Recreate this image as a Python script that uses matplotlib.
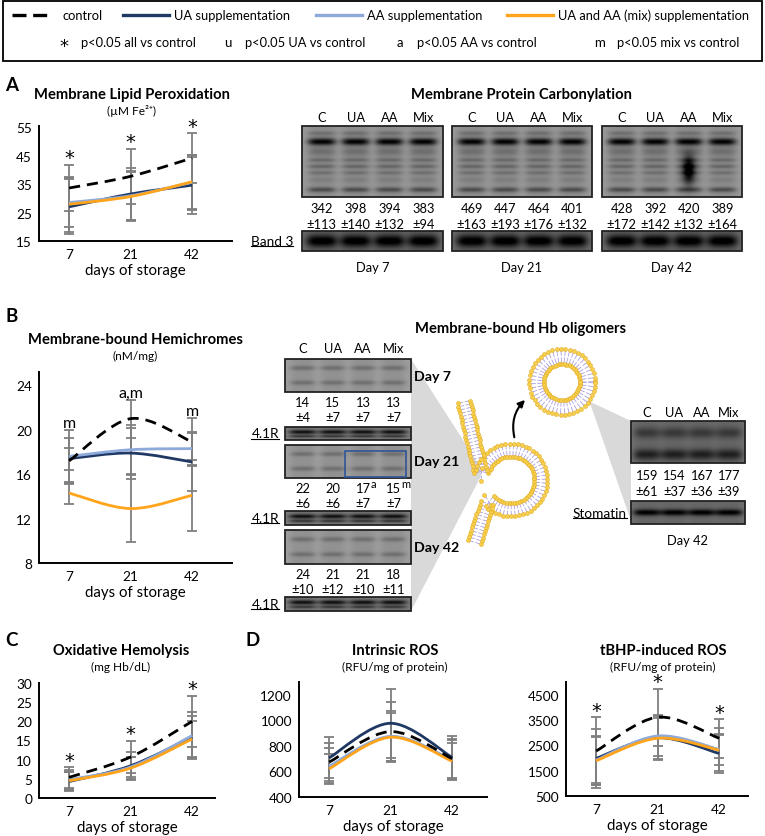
import numpy as np
import matplotlib.pyplot as plt
from matplotlib.path import Path
from matplotlib.patches import PathPatch, Rectangle, Polygon, FancyArrowPatch
from matplotlib.collections import LineCollection

plt.rcParams['font.family'] = ['Lato', 'DejaVu Sans']

W, H = 765, 837

# ---------------- data ----------------
days = ['7', '21', '42']

lipid_ctrl = [33.6, 37.7, 44.1]; lipid_ctrl_err = [8.2, 9.7, 8.8]
lipid_ua = [27.0, 31.5, 34.6];   lipid_ua_err = [9.6, 9.1, 10.0]
lipid_aa = [28.5, 30.9, 35.6];   lipid_aa_err = [8.5, 8.6, 9.6]
lipid_mix = [27.9, 30.6, 35.8];  lipid_mix_err = [9.6, 8.5, 9.4]
lipid_sig = ['*', '*', '*']

hemi_ctrl = [17.2, 21.0, 18.9]; hemi_ctrl_err = [2.1, 1.7, 2.2]
hemi_ua = [17.4, 17.9, 17.1];   hemi_ua_err = [1.0, 2.3, 2.6]
hemi_aa = [17.6, 18.2, 18.3];   hemi_aa_err = [2.4, 2.2, 1.5]
hemi_mix = [14.3, 12.9, 14.1];  hemi_mix_err = [1.0, 3.0, 3.2]
hemi_sig = ['m', 'a,m', 'm']

hemo_ctrl = [5.4, 10.7, 20.0]; hemo_ctrl_err = [2.7, 4.3, 6.7]
hemo_ua = [4.3, 8.4, 15.9];    hemo_ua_err = [2.4, 3.6, 5.4]
hemo_aa = [4.8, 8.1, 16.3];    hemo_aa_err = [2.5, 2.5, 6.1]
hemo_mix = [4.5, 7.8, 15.4];   hemo_mix_err = [2.3, 2.8, 4.6]
hemo_sig = ['*', '*', '*']

ros_ctrl = [673, 912, 700]; ros_ctrl_err = [150, 228, 155]
ros_ua = [706, 977, 710];   ros_ua_err = [160, 272, 170]
ros_aa = [641, 875, 690];   ros_aa_err = [143, 200, 160]
ros_mix = [621, 868, 680];  ros_mix_err = [112, 190, 140]
ros_sig = ['', '', '']

tbhp_ctrl = [2275, 3610, 2780]; tbhp_ctrl_err = [1325, 1130, 770]
tbhp_ua = [1985, 2800, 2180];   tbhp_ua_err = [1165, 860, 770]
tbhp_aa = [1920, 2870, 2340];   tbhp_aa_err = [925, 810, 860]
tbhp_mix = [1890, 2780, 2310];  tbhp_mix_err = [960, 800, 600]
tbhp_sig = ['*', '*', '*']

lanes = ['C', 'UA', 'AA', 'Mix']
carb_d7 = ['342', '398', '394', '383'];   carb_d7_sd = ['±113', '±140', '±132', '±94']
carb_d21 = ['469', '447', '464', '401'];  carb_d21_sd = ['±163', '±193', '±176', '±132']
carb_d42 = ['428', '392', '420', '389'];  carb_d42_sd = ['±172', '±142', '±132', '±164']
olig_d7 = ['14', '15', '13', '13'];   olig_d7_sd = ['±4', '±7', '±7', '±7']
olig_d21 = ['22', '20', '17', '15'];  olig_d21_sd = ['±6', '±6', '±7', '±7']
olig_d21_sig = ['', '', 'a', 'm']
olig_d42 = ['24', '21', '21', '18'];  olig_d42_sd = ['±10', '±12', '±10', '±11']
stom_d42 = ['159', '154', '167', '177']; stom_d42_sd = ['±61', '±37', '±36', '±39']

C_CTRL, C_UA, C_AA, C_MIX = 'black', '#1f3864', '#8eaadb', '#ffa41b'
ERR = '#7f7f7f'
STAR = ['DejaVu Sans']

fig = plt.figure(figsize=(W / 100, H / 100), dpi=100)
ov = fig.add_axes([0, 0, 1, 1])
ov.set_xlim(0, W); ov.set_ylim(H, 0); ov.axis('off')


def smooth(ax, y, **kw):
    # Excel-like smoothed line: cubic bezier through the points
    p = np.column_stack([np.arange(len(y)), y]).astype(float)
    verts, codes = [p[0]], [Path.MOVETO]
    for i in range(len(p) - 1):
        p0 = p[i - 1] if i > 0 else p[i]
        p3 = p[i + 2] if i + 2 < len(p) else p[i + 1]
        verts += [p[i] + (p[i + 1] - p0) / 6, p[i + 1] - (p3 - p[i]) / 6, p[i + 1]]
        codes += [Path.CURVE4] * 3
    ax.add_patch(PathPatch(Path(verts, codes), fill=False, capstyle='butt', **kw))


def chart(box, series, ylim, yticks, sig):
    l, t, r, b = box
    ax = fig.add_axes([l / W, 1 - b / H, (r - l) / W, (b - t) / H])
    ax.set_facecolor('none')
    tops = np.zeros(3)
    for y, e, c, ls in series:
        ax.errorbar(range(3), y, yerr=e, fmt='none', ecolor=ERR, elinewidth=1.3,
                    capsize=3.5, capthick=1.3, zorder=2)
        tops = np.maximum(tops, np.array(y) + np.array(e))
    for y, e, c, ls in series[1:] + series[:1]:
        smooth(ax, y, edgecolor=c, lw=2.0, linestyle=ls, zorder=3)
    ax.set_xlim(-0.49, -0.49 + (r - l) / 61.5)
    ax.set_ylim(*ylim)
    ax.set_xticks(range(3), days)
    ax.set_yticks(yticks)
    for s in ['top', 'right']:
        ax.spines[s].set_visible(False)
    for s in ['left', 'bottom']:
        ax.spines[s].set_linewidth(1.4)
    ax.tick_params(length=0, labelsize=9.8, pad=5)
    ax.set_xlabel('days of storage', fontsize=10.8, labelpad=2)
    for i, s in enumerate(sig):
        if s == '*':
            ax.annotate(s, (i, tops[i]), xytext=(0, -2), textcoords='offset points',
                        ha='center', va='bottom', fontsize=14, family=STAR)
        elif s:
            ax.annotate(s, (i, tops[i]), xytext=(0, 0), textcoords='offset points',
                        ha='center', va='bottom', fontsize=11.5)
    return ax


def group(y, e):
    return [(y[0], e[0], C_CTRL, (0, (4, 2.5))), (y[1], e[1], C_UA, '-'),
            (y[2], e[2], C_AA, '-'), (y[3], e[3], C_MIX, '-')]


chart((39, 126.6, 232, 242),
      group([lipid_ctrl, lipid_ua, lipid_aa, lipid_mix],
            [lipid_ctrl_err, lipid_ua_err, lipid_aa_err, lipid_mix_err]),
      (15, 55.5), [15, 25, 35, 45, 55], lipid_sig)
chart((39, 373, 232, 564),
      group([hemi_ctrl, hemi_ua, hemi_aa, hemi_mix],
            [hemi_ctrl_err, hemi_ua_err, hemi_aa_err, hemi_mix_err]),
      (8, 25.2), [8, 12, 16, 20, 24], hemi_sig)
chart((39, 684, 215, 799),
      group([hemo_ctrl, hemo_ua, hemo_aa, hemo_mix],
            [hemo_ctrl_err, hemo_ua_err, hemo_aa_err, hemo_mix_err]),
      (0, 30), [0, 5, 10, 15, 20, 25, 30], hemo_sig)
chart((299, 683, 487, 798),
      group([ros_ctrl, ros_ua, ros_aa, ros_mix],
            [ros_ctrl_err, ros_ua_err, ros_aa_err, ros_mix_err]),
      (400, 1300), [400, 600, 800, 1000, 1200], ros_sig)
chart((566, 683, 748, 797),
      group([tbhp_ctrl, tbhp_ua, tbhp_aa, tbhp_mix],
            [tbhp_ctrl_err, tbhp_ua_err, tbhp_aa_err, tbhp_mix_err]),
      (500, 5000), [500, 1500, 2500, 3500, 4500], tbhp_sig)

# ---------------- legend box ----------------
ov.add_patch(Rectangle((3, 2), 759, 60, fill=False, ec='black', lw=1.3))
for x0, ln, c, ls, lab in [(12, 40, C_CTRL, (0, (4.2, 2)), 'control'),
                           (123, 46, C_UA, '-', 'UA supplementation'),
                           (316, 46, C_AA, '-', 'AA supplementation'),
                           (507, 46, C_MIX, '-', 'UA and AA (mix) supplementation')]:
    ov.plot([x0, x0 + ln], [16, 16], color=c, ls=ls, lw=2.4)
    ov.text(x0 + 51, 16, lab, va='center', fontsize=9.3)
for x0, sym, lab in [(64, '*', 'p<0.05 all vs control'), (228, 'u', 'p<0.05 UA vs control'),
                     (400, 'a', 'p<0.05 AA vs control'), (600, 'm', 'p<0.05 mix vs control')]:
    if sym == '*':
        ov.text(x0, 47, sym, va='center', ha='center', fontsize=13, family=STAR)
    else:
        ov.text(x0, 43, sym, va='center', ha='center', fontsize=9.5)
    ov.text(x0 + 17, 43, lab, va='center', fontsize=9.3)

# ---------------- titles ----------------
def title(x, y, main, sub):
    ov.text(x, y, main, ha='center', va='center', fontsize=10.6, fontweight='bold')
    if sub:
        ov.text(x, y + 16, sub, ha='center', va='center', fontsize=8.6)


for lab, x, y in [('A', 5, 85), ('B', 6, 316), ('C', 5, 640), ('D', 246, 640)]:
    ov.text(x, y, lab, ha='left', va='center', fontsize=13.5, fontweight='bold')
title(132, 95, 'Membrane Lipid Peroxidation', '(µM Fe²⁺)')
title(522, 95, 'Membrane Protein Carbonylation', None)
title(135, 340, 'Membrane-bound Hemichromes', '(nM/mg)')
title(521, 329, 'Membrane-bound Hb oligomers', None)
title(121, 651, 'Oxidative Hemolysis', '(mg Hb/dL)')
title(395, 651, 'Intrinsic ROS', '(RFU/mg of protein)')
title(663, 651, 'tBHP-induced ROS', '(RFU/mg of protein)')

# ---------------- blots ----------------
lane_pos = [0.14, 0.38, 0.62, 0.86]

carb_bands = [(0.10, 0.03, 0.12), (0.22, 0.05, 0.55), (0.36, 0.06, 0.12), (0.48, 0.03, 0.14),
              (0.57, 0.03, 0.16), (0.66, 0.03, 0.12), (0.76, 0.04, 0.06), (0.9, 0.035, 0.26)]
band3_bands = [(0.5, 0.3, 0.42)]
olig_bands = [(0.27, 0.07, 0.14), (0.72, 0.07, 0.14)]
r41_bands = [(0.38, 0.16, 0.4), (0.72, 0.1, 0.25)]
stom_top_bands = [(0.28, 0.13, 0.18), (0.8, 0.13, 0.28)]
stom_bands = [(0.5, 0.14, 0.42)]


def blot(x0, y0, x1, y1, bg, bands, lane_w=0.1, spot=None):
    h, w = int((y1 - y0) * 2), int((x1 - x0) * 2)
    yy, xx = np.mgrid[0:1:h * 1j, 0:1:w * 1j]
    mask = sum(np.exp(-((xx - c) / lane_w) ** 4) for c in lane_pos)
    img = np.full((h, w), bg) - 0.05 * mask
    for pos, wd, st in bands:
        img -= st * np.exp(-((yy - pos) / wd) ** 2) * mask
    if spot is not None:
        img -= 0.6 * np.exp(-((xx - spot[0]) / 0.045) ** 2 - ((yy - spot[1]) / 0.2) ** 2)
    ov.imshow(np.clip(img, 0, 1), cmap='gray', vmin=0, vmax=1, extent=(x0, x1, y1, y0),
              aspect='auto', interpolation='bilinear', zorder=3)
    ov.add_patch(Rectangle((x0, y0), x1 - x0, y1 - y0, fill=False, ec='#222222', lw=1.3, zorder=4))


def lane_text(x0, x1, y, labels, size=9.3, **kw):
    for f, s in zip(lane_pos, labels):
        ov.text(x0 + f * (x1 - x0), y, s, ha='center', va='center', fontsize=size, **kw)


underlined = []

# panel A blots
for (x0, x1), vals, sds, day, spot in [((302, 443), carb_d7, carb_d7_sd, 'Day 7', None),
                                        ((452, 592), carb_d21, carb_d21_sd, 'Day 21', None),
                                        ((602, 742), carb_d42, carb_d42_sd, 'Day 42', (0.62, 0.62))]:
    lane_text(x0, x1, 118, lanes)
    blot(x0, 127, x1, 198, 0.6, carb_bands, spot=spot)
    lane_text(x0, x1, 209, vals)
    lane_text(x0, x1, 225, sds)
    blot(x0, 232, x1, 252, 0.42, band3_bands, lane_w=0.11)
    ov.text((x0 + x1) / 2, 268, day, ha='center', va='center', fontsize=9.3)
underlined.append(ov.text(293, 242, 'Band 3', ha='right', va='center', fontsize=9.8))

# panel B blots (Hb oligomers)
ov.add_patch(Polygon([(411, 360), (481, 469), (481, 477), (411, 612)], fc='#d9d9d9', ec='none', zorder=1))
ov.add_patch(Polygon([(582, 399), (631, 422), (631, 522), (590, 404)], fc='#d9d9d9', ec='none', zorder=1))

bx0, bx1 = 285, 411
lane_text(bx0, bx1, 349, lanes)
for (y0, y1), day, vals, sds, ny, r41 in [((360, 393), 'Day 7', olig_d7, olig_d7_sd, 403, (428, 441)),
                                          ((446, 479), 'Day 21', olig_d21, olig_d21_sd, 489, (512, 526)),
                                          ((531, 565), 'Day 42', olig_d42, olig_d42_sd, 575, (598, 612))]:
    blot(bx0, y0, bx1, y1, 0.62, olig_bands)
    ov.text(414, (y0 + y1) / 2, day, ha='left', va='center', fontsize=10.2, fontweight='bold')
    lane_text(bx0, bx1, ny, vals)
    lane_text(bx0, bx1, ny + 15, sds)
    blot(bx0, r41[0], bx1, r41[1], 0.5, r41_bands, lane_w=0.11)
    underlined.append(ov.text(279, (r41[0] + r41[1]) / 2, '4.1R', ha='right', va='center', fontsize=9.8))
for f, s in zip(lane_pos, olig_d21_sig):
    if s:
        ov.text(bx0 + f * (bx1 - bx0) + 8, 484, s, ha='left', va='center', fontsize=8)
ov.add_patch(Rectangle((345, 452), 61, 26, fill=False, ec='#2f5597', lw=1.2, zorder=5))

sx0, sx1 = 631, 745
lane_text(sx0, sx1, 413, lanes)
blot(sx0, 422, sx1, 464, 0.45, stom_top_bands, lane_w=0.12)
lane_text(sx0, sx1, 476, stom_d42)
lane_text(sx0, sx1, 492, stom_d42_sd)
blot(sx0, 502, sx1, 525, 0.45, stom_bands, lane_w=0.12)
underlined.append(ov.text(627, 514, 'Stomatin', ha='right', va='center', fontsize=9.8))
ov.text((sx0 + sx1) / 2, 541, 'Day 42', ha='center', va='center', fontsize=9.3)


# ---------------- lipid bilayer sketch ----------------
def bilayer(cl, half=6.5, step=3.4):
    seg = np.hypot(*np.diff(cl, axis=0).T)
    s = np.concatenate([[0], np.cumsum(seg)])
    si = np.arange(0, s[-1], step)
    p = np.column_stack([np.interp(si, s, cl[:, 0]), np.interp(si, s, cl[:, 1])])
    tg = np.gradient(p, axis=0)
    tg /= np.hypot(*tg.T)[:, None]
    nrm = np.column_stack([-tg[:, 1], tg[:, 0]])
    out, inn = p + nrm * half, p - nrm * half
    tails = [[o, p_ + nrm_ * 0.8] for o, p_, nrm_ in zip(out, p, nrm)]
    tails += [[i, p_ - nrm_ * 0.8] for i, p_, nrm_ in zip(inn, p, nrm)]
    ov.add_collection(LineCollection(tails, colors='#ab9ee0', lw=0.6, zorder=6))
    heads = np.vstack([out, inn])
    ov.scatter(heads[:, 0], heads[:, 1], s=8, fc='#f7d04c', ec='#e2aa22', lw=0.4, zorder=7)


top_strip = np.column_stack([np.linspace(464, 481, 20), np.linspace(403, 475, 20)])
th = np.radians(np.linspace(170, -140, 120))
loop = np.column_stack([511 + 30 * np.cos(th), 481 - 30 * np.sin(th)])
bot_strip = np.column_stack([np.linspace(loop[-1, 0], 474, 20), np.linspace(loop[-1, 1], 545, 20)])
bilayer(np.vstack([top_strip, loop, bot_strip]))
tv = np.radians(np.linspace(0, 360, 160))
bilayer(np.column_stack([562 + 25.5 * np.cos(tv), 383 - 25.5 * np.sin(tv)]), half=7.5)

ov.add_patch(FancyArrowPatch((515, 441), (527, 399), connectionstyle='arc3,rad=-0.3',
                             arrowstyle='-|>', mutation_scale=10, color='black', lw=1.5, zorder=8))

# underline labels
rend = fig.canvas.get_renderer()
for t in underlined:
    bb = t.get_window_extent(rend)
    ov.plot([bb.x0, bb.x1], [H - bb.y0 - 1, H - bb.y0 - 1], color='black', lw=0.8)

fig.savefig('out.png', dpi=100)
